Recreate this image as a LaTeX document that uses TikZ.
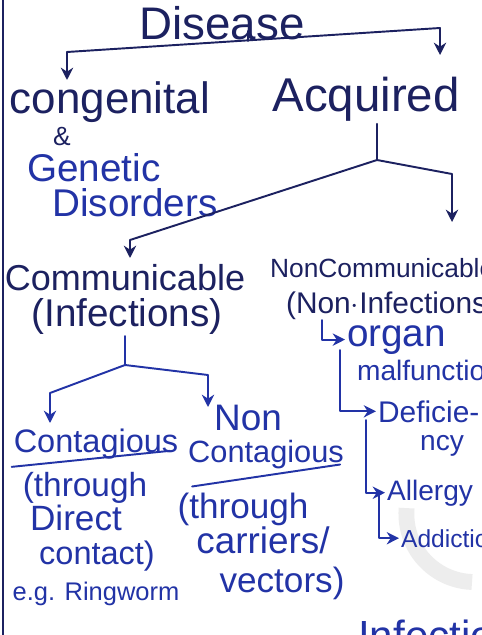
\documentclass[tikz,border=0pt]{standalone}
\usepackage{fontspec}
\setmainfont{Liberation Sans}
\usepackage{xcolor}
\usetikzlibrary{arrows.meta,positioning}
\definecolor{dzink}{HTML}{2233A6}
\definecolor{dznavy}{HTML}{1C2160}
\definecolor{dzmark}{HTML}{EDEDED}

\begin{document}
\begin{tikzpicture}[x=0.02cm,y=-0.02cm,
  wire/.style={dznavy, line width=1.1pt, line cap=round, line join=round},
  tip/.style={wire, -{Stealth[length=7pt,width=7pt]}},
  every node/.style={inner sep=1pt}]
  \useasboundingbox (0,0) rectangle (482,635);
  \clip (0,0) rectangle (482,635);
  \fill[white] (0,0) rectangle (482,635);
  \draw[dzmark, line width=9pt] (472,582) arc[start angle=92, end angle=185, radius=68];
  \draw[dznavy, line width=1.6pt] (3,0) -- (3,635);

  % top level
  \node[anchor=base, font=\fontsize{26}{30}\selectfont, text=dznavy] (disease) at (222,40) {Disease};
  \node[anchor=base, font=\fontsize{25}{30}\selectfont, text=dznavy] (congenital) at (110,113) {congenital};
  \node[anchor=base, font=\fontsize{15}{18}\selectfont, text=dznavy] (amp) at (62,145) {\&};
  \node[anchor=base, font=\fontsize{22}{26}\selectfont, text=dzink] (genetic) at (94,181) {Genetic};
  \node[anchor=base, font=\fontsize{22}{26}\selectfont, text=dzink] (disorders) at (135,216) {Disorders};
  \node[anchor=base, font=\fontsize{27}{30}\selectfont, text=dznavy] (acquired) at (366,112) {Acquired};

  \coordinate (dsplit) at (248,41);
  \coordinate (dleft) at (67,52);
  \coordinate (dright) at (440,28);
  \draw[wire] (dsplit) -- ++(0,-10);
  \draw[wire] (dleft) -- (dright);
  \draw[tip] (dleft) -- ++(0,28);
  \draw[tip] (dright) -- ++(0,27);

  % acquired
  \node[anchor=base, font=\fontsize{20.5}{24}\selectfont, text=dznavy] (communicable) at (125,290) {Communicable};
  \node[anchor=base, font=\fontsize{22}{26}\selectfont, text=dznavy] (infections) at (127,326) {(Infections)};
  \node[anchor=base west, font=\fontsize{15}{18}\selectfont, text=dznavy] (noncomm) at (268,277) {NonCommunicable};
  \node[anchor=base west, font=\fontsize{17}{20}\selectfont, text=dznavy] (noninf) at (284,313) {(Non$\cdot$Infections)};

  \coordinate (asplit) at (377,160);
  \coordinate (aleft) at (130,240);
  \coordinate (aright) at (452,174);
  \draw[wire] (acquired.south -| asplit) -- (asplit);
  \draw[tip] (asplit) -- (aleft) -- ++(0,18);
  \draw[tip] (asplit) -- (aright) -- ++(0,48);

  % communicable
  \node[anchor=base, font=\fontsize{18.5}{22}\selectfont, text=dzink] (contag) at (96,452) {Contagious};
  \node[anchor=base, font=\fontsize{19}{22}\selectfont, text=dzink] (through) at (85,496) {(through};
  \node[anchor=base, font=\fontsize{20}{24}\selectfont, text=dzink] (direct) at (76,530) {Direct};
  \node[anchor=base, font=\fontsize{18.5}{22}\selectfont, text=dzink] (contact) at (97,564) {contact)};
  \node[anchor=base, font=\fontsize{14.5}{18}\selectfont, text=dzink] (ringworm) at (96,600) {e.g. Ringworm};
  \node[anchor=base, font=\fontsize{21}{24}\selectfont, text=dzink] (non) at (248,430) {Non};
  \node[anchor=base, font=\fontsize{17.5}{22}\selectfont, text=dzink] (noncontag) at (266,462) {Contagious};
  \node[anchor=base, font=\fontsize{20}{24}\selectfont, text=dzink] (throughb) at (243,518) {(through};
  \node[anchor=base, font=\fontsize{21}{24}\selectfont, text=dzink] (carriers) at (263,553) {carriers/};
  \node[anchor=base, font=\fontsize{20}{24}\selectfont, text=dzink] (vectors) at (282,592) {vectors)};
  \draw[wire, dzink] (contag.south west) ++(0,6) -- ++(158,-16);
  \draw[wire, dzink] (noncontag.south west) ++(6,16) -- ++(148,-22);

  \coordinate (isplit) at (125,365);
  \coordinate (ileft) at (50,393);
  \coordinate (iright) at (208,375);
  \draw[wire, dzink] (infections.south -| isplit) -- (isplit);
  \draw[tip, dzink] (isplit) -- (ileft) -- ++(0,30);
  \draw[tip, dzink] (isplit) -- (iright) -- ++(0,32);

  % non communicable
  \node[anchor=base west, font=\fontsize{22}{26}\selectfont, text=dzink] (organ) at (345,346) {organ};
  \node[anchor=base west, font=\fontsize{16}{20}\selectfont, text=dzink] (malfunction) at (355,380) {malfunction};
  \node[anchor=base west, font=\fontsize{17}{20}\selectfont, text=dzink] (deficie) at (376,422) {Deficie-};
  \node[anchor=base, font=\fontsize{16}{20}\selectfont, text=dzink] (ncy) at (442,450) {ncy};
  \node[anchor=base west, font=\fontsize{16}{20}\selectfont, text=dzink] (allergy) at (385,500) {Allergy};
  \node[anchor=base west, font=\fontsize{14}{18}\selectfont, text=dzink] (addiction) at (399,547) {Addiction};
  \node[anchor=base west, font=\fontsize{24}{28}\selectfont, text=dzink] (bottominf) at (356,650) {Infections};

  \coordinate (nfirst) at (322,320);
  \coordinate (nsecond) at (340,350);
  \coordinate (nthird) at (366,420);
  \coordinate (nfourth) at (379,495);
  \draw[tip, dzink] (nfirst) |- (organ.west);
  \draw[tip, dzink] (nsecond) |- (deficie.west);
  \draw[tip, dzink] (nthird) |- (allergy.west);
  \draw[tip, dzink] (nfourth) |- (addiction.west);
\end{tikzpicture}
\end{document}
